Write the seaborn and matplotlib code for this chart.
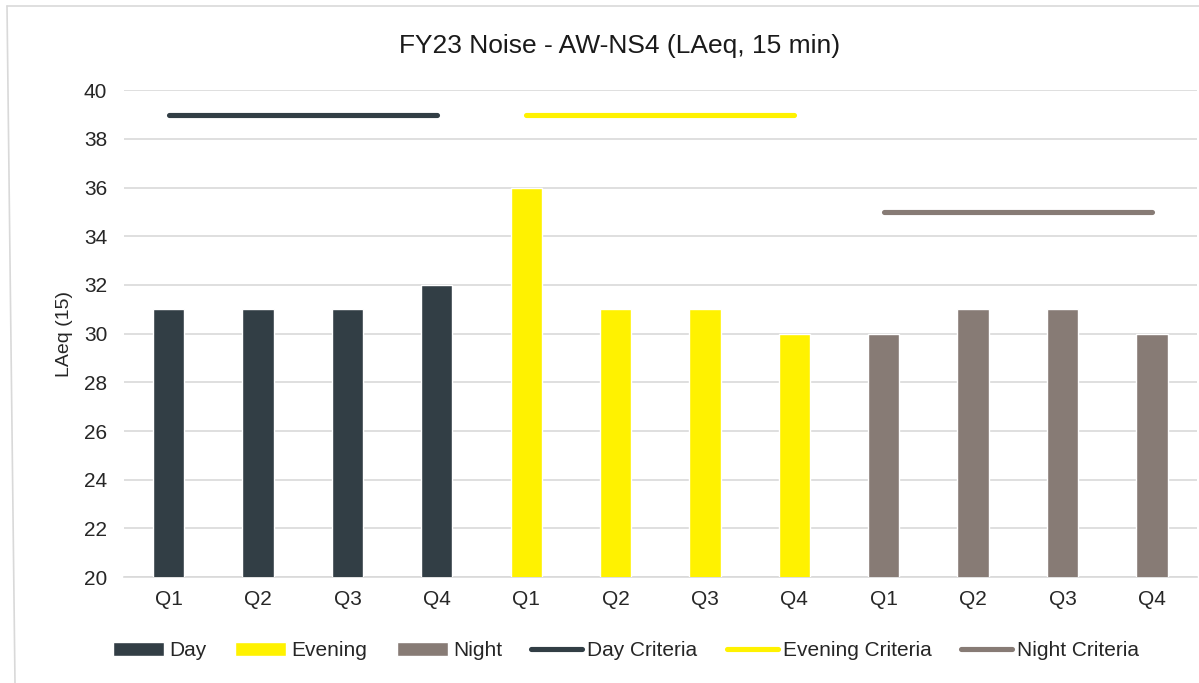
import matplotlib
matplotlib.use("Agg")
import matplotlib.pyplot as plt
from matplotlib.patches import Patch
from matplotlib.lines import Line2D
import seaborn as sns
import pandas as pd

sns.set_theme(style="white")
plt.rcParams["font.family"] = ["Liberation Sans", "DejaVu Sans"]

# Quarterly LAeq(15 min) results per assessment period
quarters = ["Q1", "Q2", "Q3", "Q4"]
periods = ["Day", "Evening", "Night"]
day_values = [31, 31, 31, 32]
evening_values = [36, 31, 31, 30]
night_values = [30, 31, 31, 30]
criteria = {"Day": 39, "Evening": 39, "Night": 35}

colors = {"Day": "#323E45", "Evening": "#FFF200", "Night": "#877B75"}

rows = []
for period, vals in zip(periods, [day_values, evening_values, night_values]):
    for q, v in zip(quarters, vals):
        rows.append({"slot": f"{period} {q}", "period": period, "quarter": q,
                     "value": v, "criteria": criteria[period]})
df = pd.DataFrame(rows)
slot_order = list(df["slot"])

fig = plt.figure(figsize=(11.99, 6.83), dpi=100)
ax = fig.add_axes([0.1034, 0.155, 0.8946, 0.713])

sns.barplot(data=df, x="slot", y="value", hue="period", order=slot_order,
            hue_order=periods, palette=colors, dodge=False, width=0.35,
            saturation=1, legend=False, ax=ax, zorder=3)

# Criteria lines spanning each period's quarters
df["pos"] = range(len(df))
for period in periods:
    sub = df[df["period"] == period]
    sns.lineplot(data=sub, x="pos", y="criteria", color=colors[period],
                 linewidth=3.7, ax=ax, zorder=4,
                 solid_capstyle="round")

ax.set_xlim(-0.5, len(slot_order) - 0.5)
ax.set_ylim(20, 40)
ax.set_yticks(range(20, 41, 2))
ax.set_xticks(range(len(slot_order)))
ax.set_xticklabels(list(df["quarter"]), fontsize=15)
ax.tick_params(axis="y", labelsize=15, length=0, pad=12)
ax.tick_params(axis="x", length=0, pad=9)
ax.set_xlabel("")
ax.set_ylabel("LAeq (15)", fontsize=14, labelpad=8)
ax.yaxis.grid(True, color="#D9D9D9", linewidth=1.2, zorder=0)
ax.set_axisbelow(True)
for side in ["top", "right", "left"]:
    ax.spines[side].set_visible(False)
ax.spines["bottom"].set_color("#D9D9D9")
ax.spines["bottom"].set_linewidth(1.2)

fig.suptitle("FY23 Noise - AW-NS4 (LAeq, 15 min)", fontsize=19, x=0.517,
             y=0.95, color="#1A1A1A")

handles = [Patch(facecolor=colors[p], label=p) for p in periods] + [
    Line2D([0], [0], color=colors[p], linewidth=3.7, solid_capstyle="round",
           label=f"{p} Criteria") for p in periods]
fig.legend(handles=handles, loc="center", bbox_to_anchor=(0.522, 0.047),
           ncol=6, frameon=False, fontsize=15, handlelength=2.45,
           handleheight=0.6, handletextpad=0.25, columnspacing=1.4)

# Outer chart frame
fig.add_artist(Line2D([7 / 1199, 1.0], [1 - 6 / 683, 1 - 6 / 683],
                      transform=fig.transFigure, color="#D9D9D9", linewidth=1.2))
fig.add_artist(Line2D([7 / 1199, 15 / 1199], [1 - 6 / 683, 0.0],
                      transform=fig.transFigure, color="#D9D9D9", linewidth=1.2))

fig.savefig("out.png", dpi=100, facecolor="white")
